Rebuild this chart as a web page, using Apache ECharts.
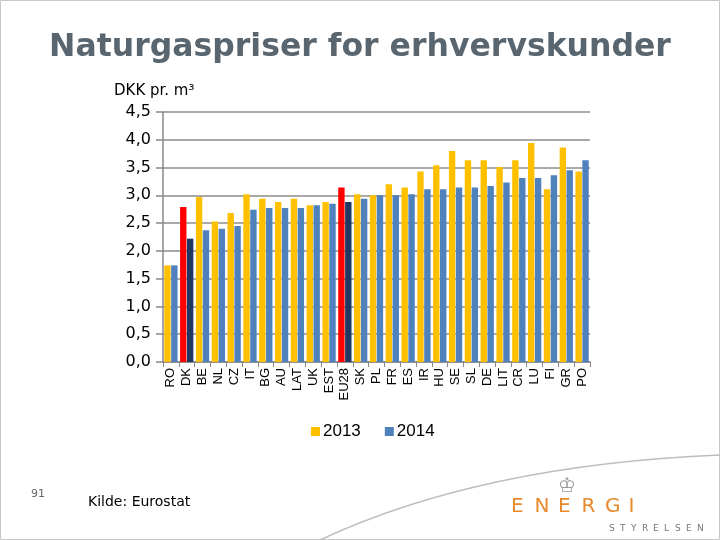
<!DOCTYPE html>
<html>
<head>
<meta charset="utf-8">
<script src="https://cdn.jsdelivr.net/npm/echarts@6/dist/echarts.min.js"></script>
<style>
  html, body { margin: 0; padding: 0; background: #fff; }
  #chart { width: 720px; height: 540px; }
</style>
</head>
<body>
<div id="chart"></div>
<script>
// lande (x-akse)
var categories = ['RO', 'DK', 'BE', 'NL', 'CZ', 'IT', 'BG', 'AU', 'LAT', 'UK', 'EST', 'EU28', 'SK', 'PL',
    'FR', 'ES', 'IR', 'HU', 'SE', 'SL', 'DE', 'LIT', 'CR', 'LU', 'FI', 'GR', 'PO'];
// DKK pr. m3
var v2013 = [1.74, 2.79, 2.97, 2.53, 2.68, 3.02, 2.94, 2.88, 2.94, 2.82, 2.88, 3.14, 3.02, 3.00,
    3.20, 3.14, 3.43, 3.54, 3.80, 3.63, 3.63, 3.51, 3.63, 3.94, 3.11, 3.86, 3.43];
var v2014 = [1.74, 2.22, 2.37, 2.40, 2.45, 2.74, 2.77, 2.77, 2.77, 2.82, 2.85, 2.88, 2.94, 3.00,
    3.00, 3.02, 3.11, 3.11, 3.14, 3.14, 3.17, 3.23, 3.31, 3.31, 3.36, 3.45, 3.63];
var highlighted = ['DK', 'EU28'];
var yTicks = [0, 0.5, 1, 1.5, 2, 2.5, 3, 3.5, 4, 4.5];

var yellow = '#FFC000', blue = '#4F81BD', red = '#FF0000', navy = '#1F3864';

function mkData(vals, hi){
    return vals.map(function(v, i){
        if (highlighted.indexOf(categories[i]) >= 0) {
            return { value: v, itemStyle: { color: hi } };
        }
        return v;
    });
}

// logo, bogstav for bogstav (spredt skrift)
function spaced(txt, x0, step, top, size, color){
    return txt.split('').map(function(ch, i){
        return { type: 'text', left: x0 + i * step, top: top, silent: true,
                 style: { text: ch, fontFamily: 'DejaVu Sans', fontSize: size, fill: color } };
    });
}

var chart = echarts.init(document.getElementById('chart'), null, { renderer: 'canvas' });
chart.setOption({
    animation: false,
    backgroundColor: '#fff',
    title: {
        text: 'Naturgaspriser for erhvervskunder',
        left: 'center',
        top: 27,
        textStyle: { fontFamily: 'DejaVu Sans', fontWeight: 'bold', fontSize: 31.5, color: '#59666F' }
    },
    legend: {
        data: ['2013', '2014'],
        left: 306,
        top: 418,
        icon: 'rect',
        itemWidth: 9,
        itemHeight: 9,
        itemGap: 24,
        textStyle: { fontFamily: 'Liberation Sans', fontSize: 17, color: '#000', padding: [0, 0, 0, -2] }
    },
    grid: { left: 163, right: 130, top: 112, bottom: 178 },
    xAxis: {
        type: 'category',
        data: categories,
        axisLine: { lineStyle: { color: '#888', width: 1.5 } },
        axisTick: { show: true, length: 5, lineStyle: { color: '#888' } },
        axisLabel: {
            rotate: 90, interval: 0, margin: 6,
            fontFamily: 'Liberation Sans', fontSize: 13, color: '#000'
        }
    },
    yAxis: {
        type: 'value',
        min: yTicks[0],
        max: yTicks[yTicks.length - 1],
        interval: 0.5,
        axisLine: { show: true, lineStyle: { color: '#888', width: 1.5 } },
        axisTick: { show: true, length: 7, lineStyle: { color: '#888', width: 1.5 } },
        splitLine: { lineStyle: { color: '#8c8c8c', width: 1.5 } },
        axisLabel: {
            margin: 12,
            fontFamily: 'DejaVu Sans', fontSize: 16, color: '#000',
            formatter: function(v){ return v.toFixed(1).replace('.', ','); }
        }
    },
    series: [
        { name: '2013', type: 'bar', data: mkData(v2013, red), itemStyle: { color: yellow },
          barCategoryGap: '16%', barGap: '8%' },
        { name: '2014', type: 'bar', data: mkData(v2014, navy), itemStyle: { color: blue } }
    ],
    graphic: [
        { type: 'rect', shape: { x: 0.5, y: 0.5, width: 719, height: 539 }, silent: true,
          style: { fill: 'none', stroke: '#c8c8c8', lineWidth: 1 } },
        { type: 'text', left: 114, top: 84,
          style: { text: 'DKK pr. m³', fontFamily: 'DejaVu Sans', fontSize: 15, fill: '#000' } },
        { type: 'bezierCurve', silent: true,
          shape: { x1: 320, y1: 540, x2: 720, y2: 455, cpx1: 480, cpy1: 465 },
          style: { stroke: '#bdbdbd', lineWidth: 1.5, fill: 'none' } },
        { type: 'text', left: 31, top: 489,
          style: { text: '91', fontFamily: 'DejaVu Sans', fontSize: 11, fill: '#666' } },
        { type: 'text', left: 88, top: 495,
          style: { text: 'Kilde: Eurostat', fontFamily: 'DejaVu Sans', fontSize: 14, fill: '#000' } },
        { type: 'text', left: 558, top: 477,
          style: { text: '♔', fontFamily: 'DejaVu Sans', fontSize: 20, fill: '#999' } }
    ].concat(spaced('ENERGI', 511, 23.5, 497, 20, '#E8892B'))
     .concat(spaced('STYRELSEN', 609, 11, 524, 9, '#777'))
});
</script>
</body>
</html>
